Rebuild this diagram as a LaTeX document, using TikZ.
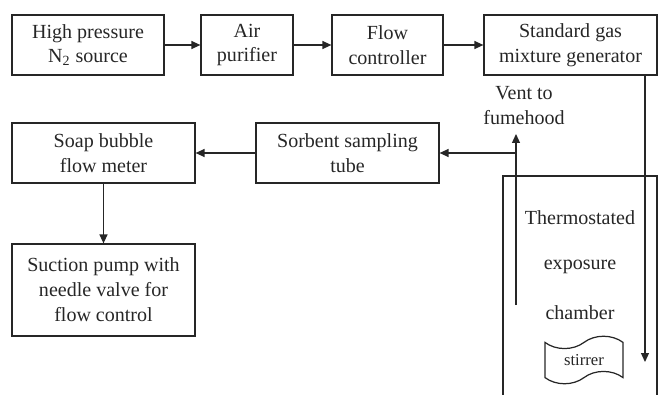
\documentclass[tikz,border=0pt]{standalone}
\usepackage{fontspec}
\setmainfont{Liberation Serif}
\usetikzlibrary{arrows.meta,shapes.symbols}
\tikzset{
  box/.style={draw=black!85, line width=0.7pt, align=center, inner sep=0pt,
    minimum height=1.2cm, text=black!85, font=\fontsize{11.4}{14.2}\selectfont},
  flow/.style={draw=black!85, line width=0.7pt, -{Triangle[length=1.8mm,width=1.6mm]}},
  wall/.style={draw=black!85, line width=0.7pt},
  label/.style={align=center, inner sep=0pt, text=black!85, font=\fontsize{11.4}{14.2}\selectfont},
}
\begin{document}
\begin{tikzpicture}[x=0.02cm,y=-0.02cm]
    \useasboundingbox (0,0) rectangle (660,395);

    % gas generation line
    \node[box, minimum width=3.04cm] (src) at (88,45) {High pressure\\N\textsubscript{2} source};
    \node[box, minimum width=1.84cm] (pur) at (247,45) {Air\\purifier};
    \node[box, minimum width=2.22cm] (ctl) at (387.5,45) {Flow\\controller};
    \node[box, minimum width=3.46cm] (gen) at (570.5,45) {Standard gas\\mixture generator};

    \foreach \a/\b in {src/pur,pur/ctl,ctl/gen} {
        \draw[flow] (\a) -- (\b);
    }

    % sampling line
    \node[box, minimum width=3.66cm] (soap) at (103.5,153) {Soap bubble\\flow meter};
    \node[box, minimum width=3.66cm] (sorb) at (347.5,153) {Sorbent sampling\\tube};
    \node[box, minimum width=3.66cm, minimum height=1.84cm] (pump) at (103.5,290)
        {Suction pump with\\needle valve for\\flow control};

    \draw[flow] (sorb) -- (soap);
    \draw[flow] (soap) -- (pump);

    % exposure chamber, open at the bottom
    \draw[wall] (503,395) -- (503,176) -- (657,176) -- (657,395);
    \node[label] (thermo) at (580,218) {Thermostated};
    \node[label] (expo) at (580,267) {exposure};
    \node[label] (chmb) at (580,313) {chamber};
    \node[tape, tape bend height=7pt, draw=black!85, line width=0.7pt, minimum width=1.56cm,
        minimum height=0.95cm, inner sep=0pt, text=black!85,
        font=\fontsize{9.5}{11}\selectfont] (stir) at (584,360) {stirrer};

    % inlet from the generator
    \coordinate (drop) at (645,362);
    \draw[flow] (gen.south -| drop) -- (drop);

    % outlet to the vent and the sorbent tube
    \coordinate (ventlow) at (516,305);
    \coordinate (venttop) at (516,134);
    \coordinate (tee) at (516,153);
    \draw[flow] (ventlow) -- (venttop);
    \draw[flow] (tee) -- (sorb.east);
    \node[label] (vent) at (524,106) {Vent to\\fumehood};

\end{tikzpicture}
\end{document}
